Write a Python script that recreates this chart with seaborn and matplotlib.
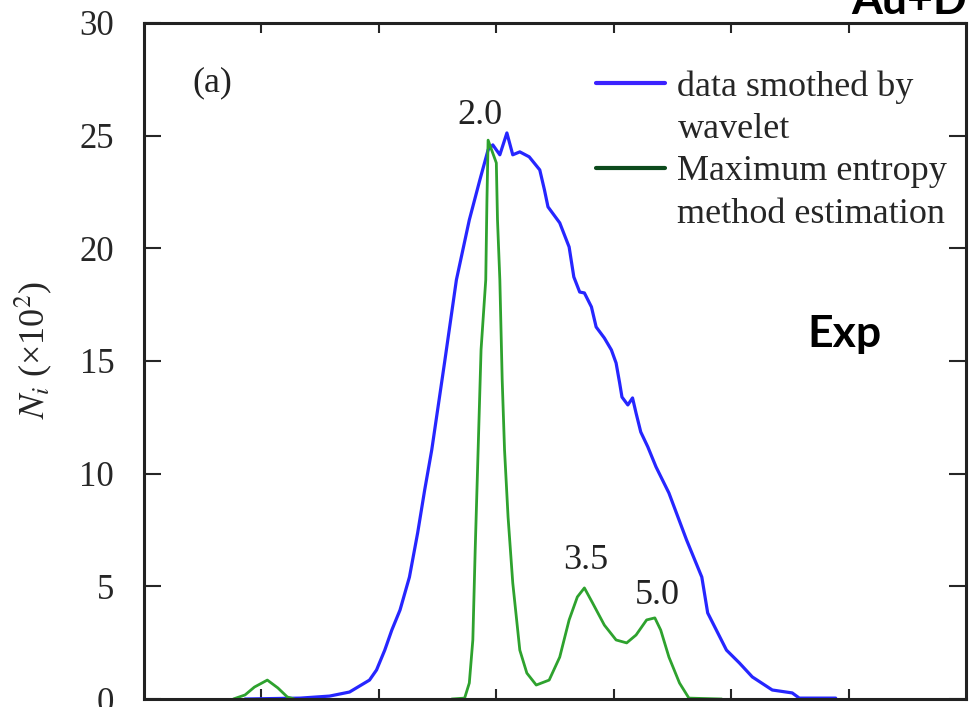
import matplotlib
matplotlib.use("Agg")
import matplotlib.pyplot as plt
from matplotlib.lines import Line2D
import numpy as np
import pandas as pd
import seaborn as sns

# ---- data ----
wavelet_x = [0.86, 1.33, 1.58, 1.75, 1.92, 1.98, 2.05, 2.11, 2.18, 2.26, 2.33, 2.39, 2.45,
             2.56, 2.66, 2.77, 2.86, 2.93, 2.97, 3.03, 3.09, 3.14, 3.20, 3.28, 3.37, 3.41,
             3.44, 3.54, 3.62, 3.66, 3.71, 3.75, 3.81, 3.85, 3.92, 3.98, 4.02, 4.05, 4.07,
             4.12, 4.16, 4.19, 4.23, 4.29, 4.36, 4.47, 4.62, 4.75, 4.80, 4.96, 5.07, 5.18,
             5.35, 5.52, 5.58, 5.89]
wavelet_y = [0.0, 0.04, 0.13, 0.31, 0.84, 1.29, 2.17, 3.06, 3.95, 5.41, 7.37, 9.28, 11.05,
             14.96, 18.6, 21.26, 23.04, 24.37, 24.59, 24.15, 25.12, 24.15, 24.28, 24.06, 23.48, 22.59,
             21.84, 21.13, 20.06, 18.73, 18.06, 18.02, 17.40, 16.51, 16.02, 15.49, 14.91, 14.03, 13.40,
             13.05, 13.36, 12.69, 11.85, 11.19, 10.30, 9.14, 7.06, 5.41, 3.82, 2.17, 1.60, 0.98,
             0.40, 0.27, 0.04, 0.04]

mem_seg1_x = [0.76, 0.86, 0.94, 1.05, 1.14, 1.22, 1.28]
mem_seg1_y = [0.0, 0.18, 0.53, 0.84, 0.49, 0.09, 0.0]
mem_seg2_x = [2.62, 2.73, 2.77, 2.80, 2.82, 2.84, 2.87, 2.91, 2.92, 2.93, 3.00, 3.01, 3.03,
              3.05, 3.07, 3.10, 3.14, 3.20, 3.26, 3.34, 3.45, 3.54, 3.62, 3.69, 3.75, 3.82,
              3.92, 4.02, 4.11, 4.19, 4.28, 4.35, 4.40, 4.47, 4.56, 4.64, 4.92]
mem_seg2_y = [0.0, 0.04, 0.71, 2.62, 6.61, 10.16, 15.5, 18.6, 22.1, 24.8, 23.79, 21.26, 18.6,
              14.16, 11.05, 8.08, 5.15, 2.17, 1.15, 0.62, 0.84, 1.86, 3.51, 4.53, 4.93, 4.26,
              3.28, 2.62, 2.49, 2.84, 3.51, 3.60, 3.06, 1.86, 0.71, 0.04, 0.0]
mem_seg3_x = [5.52, 6.41]
mem_seg3_y = [0.0, 0.0]

peak_labels = ["2.0", "3.5", "5.0"]
peak_label_x = [2.86, 3.76, 4.37]
peak_label_y = [25.9, 6.15, 4.6]

y_ticks = [0, 5, 10, 15, 20, 25, 30]
x_ticks = [1, 2, 3, 4, 5, 6]

legend_lines = ["data smothed by", "wavelet", "Maximum entropy", "method estimation"]

BLUE = "#2626ff"
GREEN = "#2ea22e"
LEG_BLUE = "#3b22ff"
LEG_GREEN = "#0c4a1c"

# ---- style ----
sns.set_style("ticks")
plt.rcParams["font.family"] = ["Liberation Serif", "DejaVu Serif"]
plt.rcParams["mathtext.fontset"] = "stix"

fig = plt.figure(figsize=(9.7, 7.07), dpi=100)
ax = fig.add_axes([0.1485, 0.0113, 0.8474, 0.9562])

wdf = pd.DataFrame({"x": wavelet_x, "y": wavelet_y})
sns.lineplot(data=wdf, x="x", y="y", ax=ax, color=BLUE, lw=2.3, sort=False, estimator=None)

for sx, sy in [(mem_seg1_x, mem_seg1_y), (mem_seg2_x, mem_seg2_y), (mem_seg3_x, mem_seg3_y)]:
    sdf = pd.DataFrame({"x": sx, "y": sy})
    sns.lineplot(data=sdf, x="x", y="y", ax=ax, color=GREEN, lw=2.0, sort=False, estimator=None)

ax.set_xlim(0, 7)
ax.set_ylim(0, 30)
ax.set_xticks(x_ticks)
ax.set_yticks(y_ticks)
ax.tick_params(axis="y", direction="in", length=12, width=1.5, labelsize=25, pad=21.5,
               right=True, left=True)
ax.tick_params(axis="x", direction="in", length=7, width=1.5, top=True, bottom=True,
               labelbottom=False)
for sp in ax.spines.values():
    sp.set_visible(True)
    sp.set_linewidth(2.2)
    sp.set_color("#222222")

ax.set_xlabel("")
ax.set_ylabel(r"$N_i$ (×10$^2$)", fontsize=26, va="center")
ax.yaxis.set_label_coords(-0.135, 0.516)

for lab, lx, ly in zip(peak_labels, peak_label_x, peak_label_y):
    ax.text(lx, ly, lab, fontsize=26, ha="center", va="center", color="#222222")

ax.text(0.083, 0.912, "(a)", transform=ax.transAxes, fontsize=26, ha="center", va="center",
        color="#222222")

handles = [Line2D([], [], color=LEG_BLUE, lw=3),
           Line2D([], [], color="none", lw=0),
           Line2D([], [], color=LEG_GREEN, lw=3),
           Line2D([], [], color="none", lw=0)]
ax.legend(handles, legend_lines, loc="upper left", bbox_to_anchor=(0.550, 0.930),
          frameon=False, fontsize=26, handlelength=1.92, handletextpad=0.33,
          labelspacing=0.25, borderpad=0, borderaxespad=0)

fig.text(0.871, 0.527, "Exp", family=["Lato", "DejaVu Sans"], fontweight="bold",
         fontsize=32, ha="center", va="center", color="black")
fig.text(0.878, 0.980, "Au+D", family=["Lato", "DejaVu Sans"], fontweight="bold",
         fontsize=32, ha="left", va="baseline", color="black")

fig.savefig("out.png", dpi=100)
